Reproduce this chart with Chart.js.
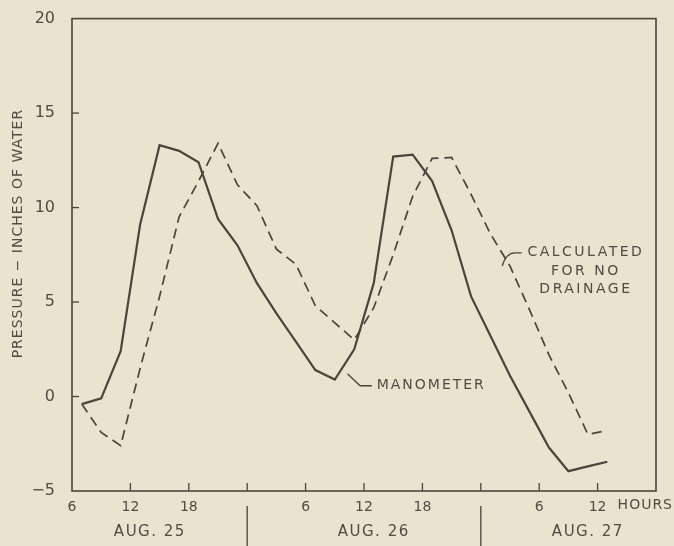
<!DOCTYPE html>
<html>
<head>
<meta charset="utf-8">
<script src="https://cdn.jsdelivr.net/npm/chart.js@4/dist/chart.umd.min.js"></script>
<style>
  html, body { margin: 0; padding: 0; background: #ebe3d0; }
  #wrap { width: 674px; height: 546px; }
</style>
</head>
<body>
<div id="wrap"><canvas id="pressureChart" width="674" height="546"></canvas></div>
<script>
    "use strict";

    // Data (hours counted from midnight, Aug. 25)
    var hours = [7, 9, 11, 13, 15, 17, 19, 21, 23, 25, 27, 29, 31, 33,
                 35, 37, 39, 41, 43, 45, 47, 49, 51, 53, 55, 57, 59, 61];
    var manometer = [-0.4, -0.1, 2.4, 9.1, 13.3, 13.0, 12.4, 9.4, 8.0, 6.0, 4.4, 2.9, 1.4, 0.9,
                     2.5, 6.0, 12.7, 12.8, 11.4, 8.8, 5.3, 3.2, 1.1, -0.8, -2.7, -3.95, -3.7, -3.45];
    var calculated = [-0.4, -1.9, -2.6, 1.5, 5.3, 9.5, 11.4, 13.4, 11.2, 10.1, 7.8, 7.0, 4.8, 3.9,
                      3.0, 4.7, 7.5, 10.6, 12.6, 12.65, 10.7, 8.6, 6.9, 4.6, 2.2, 0.2, -2.0, -1.8];

    // Axis labels
    var xTickLabels = ["6", "12", "18", "", "6", "12", "18", "", "6", "12", ""];
    var yTickLabels = ["\u22125", "0", "5", "10", "15", "20"];
    var dayLabels = ["AUG. 25", "AUG. 26", "AUG. 27"];
    var dayCenters = [14, 37, 59];
    var daySeparators = [24, 48];

    var ink = "#4b443c";
    var textInk = "#514b44";
    var family = "'DejaVu Sans', sans-serif";

    // Frame, inward ticks and the hand lettering
    var lettering = {
        id: "lettering",
        afterDraw: function (chart) {
            var ctx = chart.ctx;
            var area = chart.chartArea;
            var xs = chart.scales.x;
            var ys = chart.scales.y;
            ctx.save();
            ctx.strokeStyle = ink;
            ctx.fillStyle = textInk;
            ctx.lineWidth = 1.6;
            ctx.setLineDash([]);
            ctx.strokeRect(area.left, area.top, area.right - area.left, area.bottom - area.top);

            ctx.lineWidth = 1.3;
            xs.ticks.forEach(function (t, i) {
                if (i === 0 || i === xs.ticks.length - 1) return;
                var px = xs.getPixelForValue(t.value);
                ctx.beginPath();
                ctx.moveTo(px, area.bottom);
                ctx.lineTo(px, area.bottom - 8);
                ctx.stroke();
            });
            ys.ticks.forEach(function (t, i) {
                if (i === 0 || i === ys.ticks.length - 1) return;
                var py = ys.getPixelForValue(t.value);
                ctx.beginPath();
                ctx.moveTo(area.left, py);
                ctx.lineTo(area.left + 7, py);
                ctx.stroke();
            });

            // HOURS after the last label
            ctx.font = "14px " + family;
            ctx.letterSpacing = "1px";
            ctx.textAlign = "left";
            ctx.textBaseline = "middle";
            ctx.fillText("HOURS", xs.getPixelForValue(60) + 20, area.bottom + 14);

            // day labels and separators
            ctx.font = "15px " + family;
            ctx.letterSpacing = "1.5px";
            ctx.textAlign = "center";
            dayLabels.forEach(function (d, i) {
                ctx.fillText(d, xs.getPixelForValue(dayCenters[i]), area.bottom + 41);
            });
            ctx.lineWidth = 1.3;
            daySeparators.forEach(function (h) {
                var px = xs.getPixelForValue(h);
                ctx.beginPath();
                ctx.moveTo(px, area.bottom + 15);
                ctx.lineTo(px, chart.height);
                ctx.stroke();
            });

            // y title
            ctx.save();
            ctx.translate(18, area.top + 215);
            ctx.rotate(-Math.PI / 2);
            ctx.font = "14px " + family;
            ctx.letterSpacing = "1px";
            ctx.fillText("PRESSURE \u2212 INCHES OF WATER", 0, 0);
            ctx.restore();

            // curve notes
            ctx.font = "14px " + family;
            ctx.letterSpacing = "2px";
            ctx.textAlign = "left";
            ctx.fillText("MANOMETER", xs.getPixelForValue(37.3), ys.getPixelForValue(0.57));
            ctx.beginPath();
            ctx.moveTo(xs.getPixelForValue(34.3), ys.getPixelForValue(1.2));
            ctx.lineTo(xs.getPixelForValue(35.6), ys.getPixelForValue(0.57));
            ctx.lineTo(xs.getPixelForValue(36.8), ys.getPixelForValue(0.57));
            ctx.stroke();

            ctx.textAlign = "center";
            ctx.letterSpacing = "2.5px";
            ctx.fillText("CALCULATED", xs.getPixelForValue(58.8), ys.getPixelForValue(7.62));
            ctx.fillText("FOR NO", xs.getPixelForValue(58.8), ys.getPixelForValue(6.63));
            ctx.fillText("DRAINAGE", xs.getPixelForValue(58.8), ys.getPixelForValue(5.69));
            ctx.beginPath();
            ctx.moveTo(xs.getPixelForValue(50.2), ys.getPixelForValue(6.9));
            ctx.quadraticCurveTo(xs.getPixelForValue(50.6), ys.getPixelForValue(7.6),
                                 xs.getPixelForValue(51.5), ys.getPixelForValue(7.6));
            ctx.lineTo(xs.getPixelForValue(52.2), ys.getPixelForValue(7.6));
            ctx.stroke();
            ctx.restore();
        }
    };

    var ctx1 = document.getElementById("pressureChart").getContext("2d");

    var myChart1 = new Chart(ctx1, {
        type: "line",
        data: {
            datasets: [
            {
                label: "Manometer",
                data: hours.map(function (h, i) { return { x: h, y: manometer[i] }; }),
                borderColor: ink,
                borderWidth: 2.2,
                pointRadius: 0,
                tension: 0,
                fill: false
            },
            {
                label: "Calculated for no drainage",
                data: hours.map(function (h, i) { return { x: h, y: calculated[i] }; }),
                borderColor: ink,
                borderWidth: 1.7,
                borderDash: [10, 6],
                pointRadius: 0,
                tension: 0,
                fill: false
            }
            ]
        },
        options: {
            responsive: false,
            animation: false,
            layout: { padding: { top: 13, right: 18, bottom: 0, left: 0 } },
            plugins: {
                legend: { display: false },
                tooltip: { enabled: false }
            },
            scales: {
                x: {
                    type: "linear",
                    min: 6,
                    max: 66,
                    grid: { display: false },
                    border: { display: false },
                    ticks: {
                        stepSize: 6,
                        autoSkip: false,
                        maxRotation: 0,
                        padding: 0,
                        color: textInk,
                        font: { size: 14, family: family },
                        callback: function (v, i) { return xTickLabels[i]; }
                    },
                    afterFit: function (s) { s.height = 55; }
                },
                y: {
                    min: -5,
                    max: 20,
                    grid: { display: false },
                    border: { display: false },
                    ticks: {
                        stepSize: 5,
                        padding: 9,
                        color: textInk,
                        font: { size: 16, family: family },
                        callback: function (v, i) { return yTickLabels[i]; }
                    },
                    afterFit: function (s) { s.width = 72; }
                }
            }
        },
        plugins: [lettering]
    });
</script>
</body>
</html>
